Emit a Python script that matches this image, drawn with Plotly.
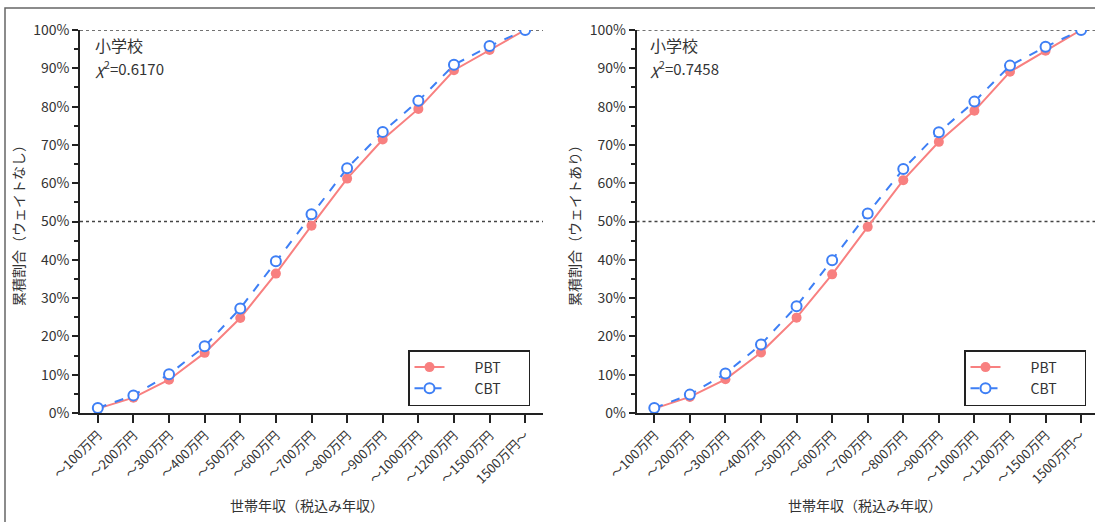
import plotly.graph_objects as go

categories = ["〜100万円", "〜200万円", "〜300万円", "〜400万円", "〜500万円", "〜600万円",
              "〜700万円", "〜800万円", "〜900万円", "〜1000万円", "〜1200万円", "〜1500万円", "1500万円〜"]
y_ticks = [0, 10, 20, 30, 40, 50, 60, 70, 80, 90, 100]
y_tick_labels = [f"{v}%" for v in y_ticks]

left_pbt = [1.15, 4.0, 8.7, 15.7, 24.8, 36.4, 48.9, 61.2, 71.4, 79.4, 89.5, 94.8, 100]
left_cbt = [1.3, 4.6, 10.1, 17.4, 27.3, 39.6, 51.9, 63.9, 73.4, 81.5, 90.9, 95.8, 100]
right_pbt = [1.15, 4.2, 8.8, 15.8, 24.9, 36.2, 48.6, 60.8, 70.8, 78.9, 89.1, 94.6, 100]
right_cbt = [1.3, 4.8, 10.3, 17.9, 27.9, 39.9, 52.1, 63.7, 73.3, 81.3, 90.7, 95.6, 100]

W, H = 1095, 522
MT, MB = 30, 109
PH = H - MT - MB
FONT = "Noto Sans CJK JP, Noto Sans, sans-serif"
TXT = "#333333"
PBT_C = "#F88080"
CBT_C = "#3E7FF5"
LPAD = "\u00a0" * 8
RPAD = "\u00a0" * 7

def px_x(p):
    return p / W

def px_y(p):
    return (H - MB - p) / PH

fig = go.Figure()
x_idx = list(range(len(categories)))

for (pbt, cbt, xa, ya, leg) in [(left_pbt, left_cbt, "x", "y", "legend"),
                                 (right_pbt, right_cbt, "x2", "y2", "legend2")]:
    fig.add_trace(go.Scatter(x=x_idx, y=pbt, xaxis=xa, yaxis=ya, name=LPAD + "PBT" + RPAD, legend=leg,
                             mode="lines+markers",
                             line=dict(color=PBT_C, width=2),
                             marker=dict(symbol="circle", size=10, color=PBT_C)))
    fig.add_trace(go.Scatter(x=x_idx, y=cbt, xaxis=xa, yaxis=ya, name=LPAD + "CBT" + RPAD, legend=leg,
                             mode="lines+markers",
                             line=dict(color=CBT_C, width=2, dash="dash"),
                             marker=dict(symbol="circle", size=10, color="white",
                                         line=dict(color=CBT_C, width=2))))

xcommon = dict(tickmode="array", tickvals=x_idx, ticktext=categories, tickangle=-45,
               ticks="outside", ticklen=8, tickwidth=1.5, tickcolor="#222",
               showline=True, linecolor="#222", linewidth=1.5, showgrid=False, zeroline=False,
               tickfont=dict(family=FONT, size=13, color=TXT), fixedrange=True, automargin=False)
ycommon = dict(range=[0, 100], tickmode="array", tickvals=y_ticks, ticktext=y_tick_labels,
               ticks="outside", ticklen=6, tickwidth=1.5, tickcolor="#222",
               minor=dict(tickvals=[5, 15, 25, 35, 45, 55, 65, 75, 85, 95], ticks="outside",
                          ticklen=4, tickwidth=1.5, tickcolor="#222"),
               showline=True, linecolor="#222", linewidth=1.5, showgrid=False, zeroline=False,
               tickfont=dict(family=FONT, size=14, color=TXT), fixedrange=True, automargin=False)

fig.update_layout(
    width=W, height=H,
    margin=dict(l=0, r=0, t=MT, b=MB, autoexpand=False),
    paper_bgcolor="white", plot_bgcolor="white",
    font=dict(family=FONT, color=TXT, size=12),
    xaxis=dict(domain=[px_x(80), px_x(543)], range=[-0.5, 12.5], anchor="y", **xcommon),
    yaxis=dict(domain=[0, 1], anchor="x", **ycommon),
    xaxis2=dict(domain=[px_x(636.5), 1.0], range=[-0.5, 12.39], anchor="y2", **xcommon),
    yaxis2=dict(domain=[0, 1], anchor="x2", **ycommon),
    legend=dict(x=px_x(530), y=px_y(350), xanchor="right", yanchor="top",
                bordercolor="#222", borderwidth=1.5, bgcolor="white",
                font=dict(family=FONT, size=14, color=TXT),
                tracegroupgap=0),
    legend2=dict(x=px_x(1086), y=px_y(350), xanchor="right", yanchor="top",
                 bordercolor="#222", borderwidth=1.5, bgcolor="white",
                 font=dict(family=FONT, size=14, color=TXT),
                 tracegroupgap=0),
    showlegend=True,
)

# dotted reference lines at 50% and 100%
for xr, yr in [("x", "y"), ("x2", "y2")]:
    for yv in [50, 100]:
        fig.add_shape(type="line", xref=f"{xr} domain", yref=yr, x0=0, x1=1, y0=yv, y1=yv,
                      line=dict(color="#444", width=1.3, dash="dot"), layer="below")

# outer frame
fig.add_shape(type="rect", xref="paper", yref="paper",
              x0=px_x(5), x1=1.2, y0=-0.5, y1=px_y(8),
              line=dict(color="#666", width=1.5), fillcolor="rgba(0,0,0,0)")

annotations = []
for xpx, chi in [(93, "0.6170"), (648, "0.7458")]:
    annotations.append(dict(xref="paper", yref="paper", x=px_x(xpx), y=px_y(45), text="小学校",
                            showarrow=False, xanchor="left", yanchor="middle",
                            font=dict(family=FONT, size=16, color=TXT)))
    annotations.append(dict(xref="paper", yref="paper", x=px_x(xpx), y=px_y(68),
                            text=f"<i>χ</i><sup>2</sup>=" + chi,
                            showarrow=False, xanchor="left", yanchor="middle",
                            font=dict(family=FONT, size=15, color=TXT)))
for xpx in [307, 865]:
    annotations.append(dict(xref="paper", yref="paper", x=px_x(xpx), y=px_y(505),
                            text="世帯年収（税込み年収）", showarrow=False,
                            xanchor="center", yanchor="middle",
                            font=dict(family=FONT, size=14, color=TXT)))
for xpx, t in [(18, "累積割合（ウェイトなし）"), (574, "累積割合（ウェイトあり）")]:
    annotations.append(dict(xref="paper", yref="paper", x=px_x(xpx), y=px_y(222),
                            text=t, textangle=-90, showarrow=False,
                            xanchor="center", yanchor="middle",
                            font=dict(family=FONT, size=14, color=TXT)))
fig.update_layout(annotations=annotations)

fig.write_html("out.html", config={"displayModeBar": False},
               post_script="document.body.style.margin='0';")
